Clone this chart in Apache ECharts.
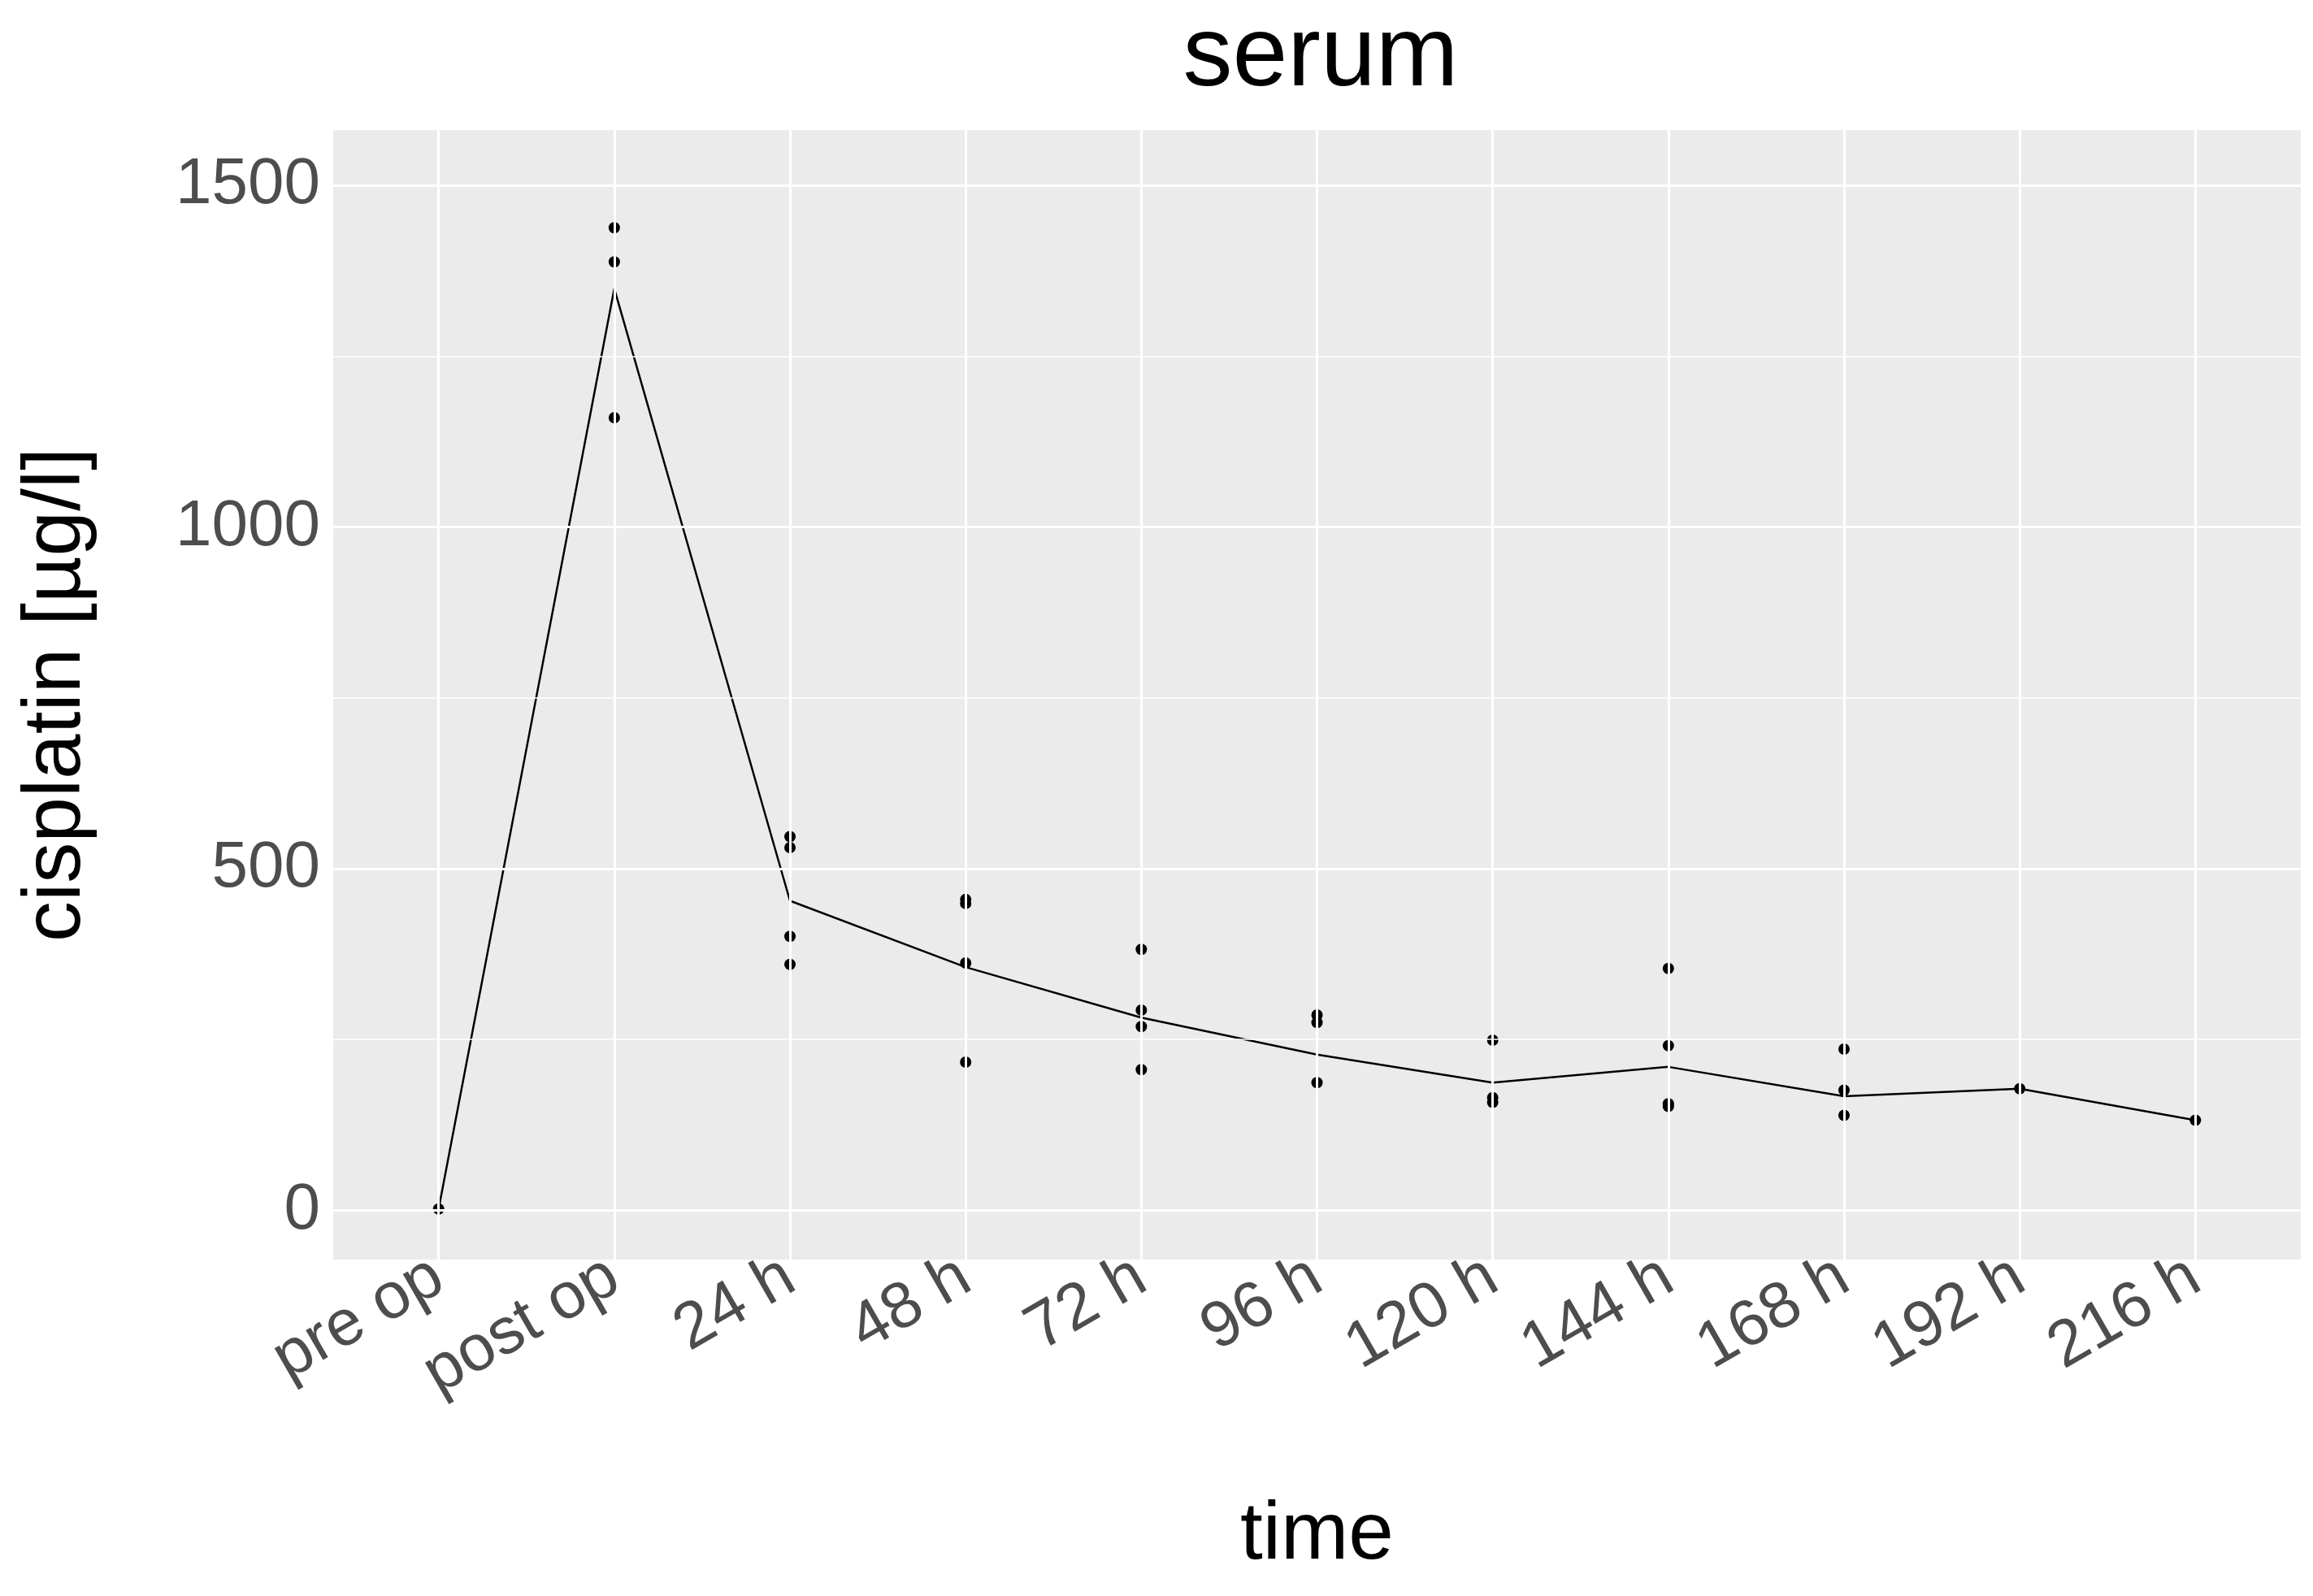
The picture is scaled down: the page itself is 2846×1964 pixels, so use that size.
<!DOCTYPE html>
<html>
<head>
<meta charset="utf-8">
<script src="https://cdn.jsdelivr.net/npm/echarts@6/dist/echarts.min.js"></script>
<style>html,body{margin:0;padding:0;background:#fff}#main{width:2846px;height:1964px}</style>
</head>
<body>
<div id="main"></div>
<script>
// categories on the x axis
var timeLabels = ['pre op', 'post op', '24 h', '48 h', '72 h', '96 h', '120 h', '144 h', '168 h', '192 h', '216 h'];
// single measurements: [category index, value]
var pointX = [0, 1, 1, 1, 2, 2, 2, 2, 3, 3, 3, 3, 4, 4, 4, 4, 5, 5, 5, 6, 6, 6, 7, 7, 7, 7, 8, 8, 8, 9, 10];
var pointY = [2, 1438, 1388, 1160, 547, 531, 401, 360, 455, 449, 362, 217, 382, 293, 269, 206, 286, 275, 187, 249, 165, 158, 354, 241, 156, 152, 236, 176, 139, 178, 132];
// mean line per time point
var meanY = [2, 1349, 453, 356, 282, 228, 187, 210, 167, 178, 132];
var yTicks = [0, 500, 1000, 1500];
var yMinor = [250, 750, 1250];

var chart = echarts.init(document.getElementById('main'));

var points = pointX.map(function (x, i) { return [x, pointY[i]]; });
var meanLine = meanY.map(function (v, i) { return [i, v]; });

var gridLines = [];
yTicks.forEach(function (v) { gridLines.push({ yAxis: v, lineStyle: { width: 3 } }); });
yMinor.forEach(function (v) { gridLines.push({ yAxis: v, lineStyle: { width: 1.5 } }); });
timeLabels.forEach(function (l, i) { gridLines.push({ xAxis: i, lineStyle: { width: 3 } }); });

var option = {
  animation: false,
  title: {
    text: 'serum',
    left: 1620, top: 5, textAlign: 'center',
    textStyle: { fontFamily: 'Liberation Sans', fontSize: 122, fontWeight: 'normal', color: '#000' }
  },
  grid: { left: 410, right: 15, top: 160, bottom: 414, show: true, backgroundColor: '#EBEBEB', borderWidth: 0 },
  xAxis: {
    type: 'value', min: -0.6, max: 10.6,
    name: 'time', nameLocation: 'middle', nameGap: 290,
    nameTextStyle: { fontFamily: 'Liberation Sans', fontSize: 100, color: '#000' },
    axisLine: { show: false },
    splitLine: { show: false },
    axisTick: { show: true, customValues: [0, 1, 2, 3, 4, 5, 6, 7, 8, 9, 10], length: 10, lineStyle: { color: '#333', width: 2 } },
    axisLabel: {
      customValues: [0, 1, 2, 3, 4, 5, 6, 7, 8, 9, 10],
      rotate: 30, margin: 16,
      fontFamily: 'Liberation Sans', fontSize: 80, color: '#4D4D4D',
      formatter: function (v) { return timeLabels[Math.round(v)]; }
    }
  },
  yAxis: {
    type: 'value', min: -72, max: 1581,
    name: 'cisplatin [µg/l]', nameLocation: 'middle', nameGap: 290,
    nameTextStyle: { fontFamily: 'Liberation Sans', fontSize: 100, color: '#000' },
    axisLine: { show: false },
    splitLine: { show: false },
    axisTick: { show: true, customValues: yTicks, length: 10, lineStyle: { color: '#333', width: 2 } },
    axisLabel: {
      customValues: yTicks, margin: 16, fontFamily: 'Liberation Sans', fontSize: 80, color: '#4D4D4D',
      formatter: function (v) { return String(v); }
    }
  },
  series: [
    {
      type: 'line', data: [], silent: true,
      markLine: { silent: true, symbol: 'none', label: { show: false }, lineStyle: { color: '#fff', type: 'solid' }, data: gridLines }
    },
    {
      type: 'line', data: meanLine, showSymbol: false,
      lineStyle: { color: '#000', width: 2.5 }
    },
    {
      type: 'scatter', data: points, symbolSize: 14,
      itemStyle: { color: '#000', borderWidth: 0, opacity: 1 }
    }
  ]
};
chart.setOption(option);
</script>
</body>
</html>
